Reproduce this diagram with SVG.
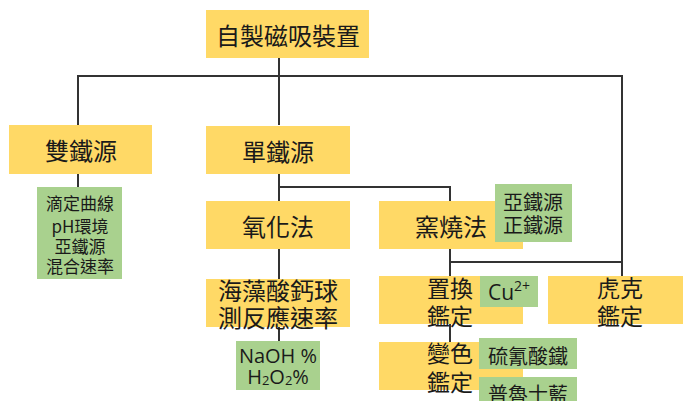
<svg xmlns="http://www.w3.org/2000/svg" width="683" height="401" viewBox="0 0 683 401">
<style>
.y{fill:#FFD966}
.g{fill:#A9D18E}
text{font-family:"Noto Sans CJK TC","Open Sans",sans-serif;fill:#1a1a1a;text-anchor:middle;dominant-baseline:central}
.l{font-size:24px}
.m{font-size:23px}
.s{font-size:20px}
.xs{font-size:17px}
.lat{font-family:"Open Sans","Noto Sans CJK TC",sans-serif}
#connectors path{fill:none;stroke:#333;stroke-width:2}
</style>
<rect width="683" height="401" fill="#fff"/>
<g id="connectors">
<path d="M279 58V125M78 125V76H622V276"/>
<path d="M78 174V187"/>
<path d="M279 174V201M279 187H450V201"/>
<path d="M279 249V279M279 327V341"/>
<path d="M450 249V276M450 262H622"/>
<path d="M450 324V342"/>
</g>
<g id="root"><rect class="y" x="206" y="10" width="163" height="48"/><text class="l" x="288" y="34">自製磁吸裝置</text></g>
<g id="dual"><rect class="y" x="9" y="125" width="143" height="49"/><text class="l" x="81" y="149">雙鐵源</text></g>
<g id="dual-notes"><rect class="g" x="37" y="187" width="85" height="92"/>
<text class="xs" x="80" y="202">滴定曲線</text><text class="xs" x="80" y="225">pH環境</text><text class="xs" x="80" y="245">亞鐵源</text><text class="xs" x="80" y="265">混合速率</text></g>
<g id="single"><rect class="y" x="206" y="126" width="144" height="48"/><text class="l" x="278" y="150">單鐵源</text></g>
<g id="oxid"><rect class="y" x="206" y="201" width="144" height="48"/><text class="l" x="278" y="225">氧化法</text></g>
<g id="kiln"><rect class="y" x="379" y="201" width="144" height="48"/><text class="l" x="451" y="225">窯燒法</text></g>
<g id="kiln-notes"><rect class="g" x="495" y="184" width="77" height="58"/><text class="s" x="533" y="201">亞鐵源</text><text class="s" x="533" y="224">正鐵源</text></g>
<g id="alginate"><rect class="y" x="206" y="279" width="144" height="48"/><text class="l" x="278" y="289">海藻酸鈣球</text><text class="l" x="278" y="316">測反應速率</text></g>
<g id="alginate-notes"><rect class="g" x="236" y="341" width="84" height="49"/>
<text class="s lat" x="278" y="355">NaOH %</text>
<text class="s lat" x="278" y="376">H<tspan font-size="13" dy="4">2</tspan><tspan dy="-4">O</tspan><tspan font-size="13" dy="4">2</tspan><tspan dy="-4">%</tspan></text></g>
<g id="replace"><rect class="y" x="379" y="276" width="144" height="48"/><text class="m" x="450" y="287">置換</text><text class="m" x="450" y="315">鑑定</text></g>
<g id="replace-notes"><rect class="g" x="480" y="276" width="58" height="31"/><text class="lat" x="509" y="292" font-size="21">Cu<tspan font-size="14" dy="-7">2+</tspan></text></g>
<g id="hooke"><rect class="y" x="548" y="276" width="144" height="48"/><text class="m" x="620" y="287">虎克</text><text class="m" x="620" y="315">鑑定</text></g>
<g id="color"><rect class="y" x="379" y="342" width="144" height="48"/><text class="m" x="450" y="352">變色</text><text class="m" x="450" y="381">鑑定</text></g>
<g id="thiocyanate"><rect class="g" x="479" y="338" width="98" height="31"/><text class="s" x="528" y="355">硫氰酸鐵</text></g>
<g id="prussian"><rect class="g" x="479" y="377" width="98" height="40"/><text class="s" x="528" y="393">普魯士藍</text></g>
</svg>
